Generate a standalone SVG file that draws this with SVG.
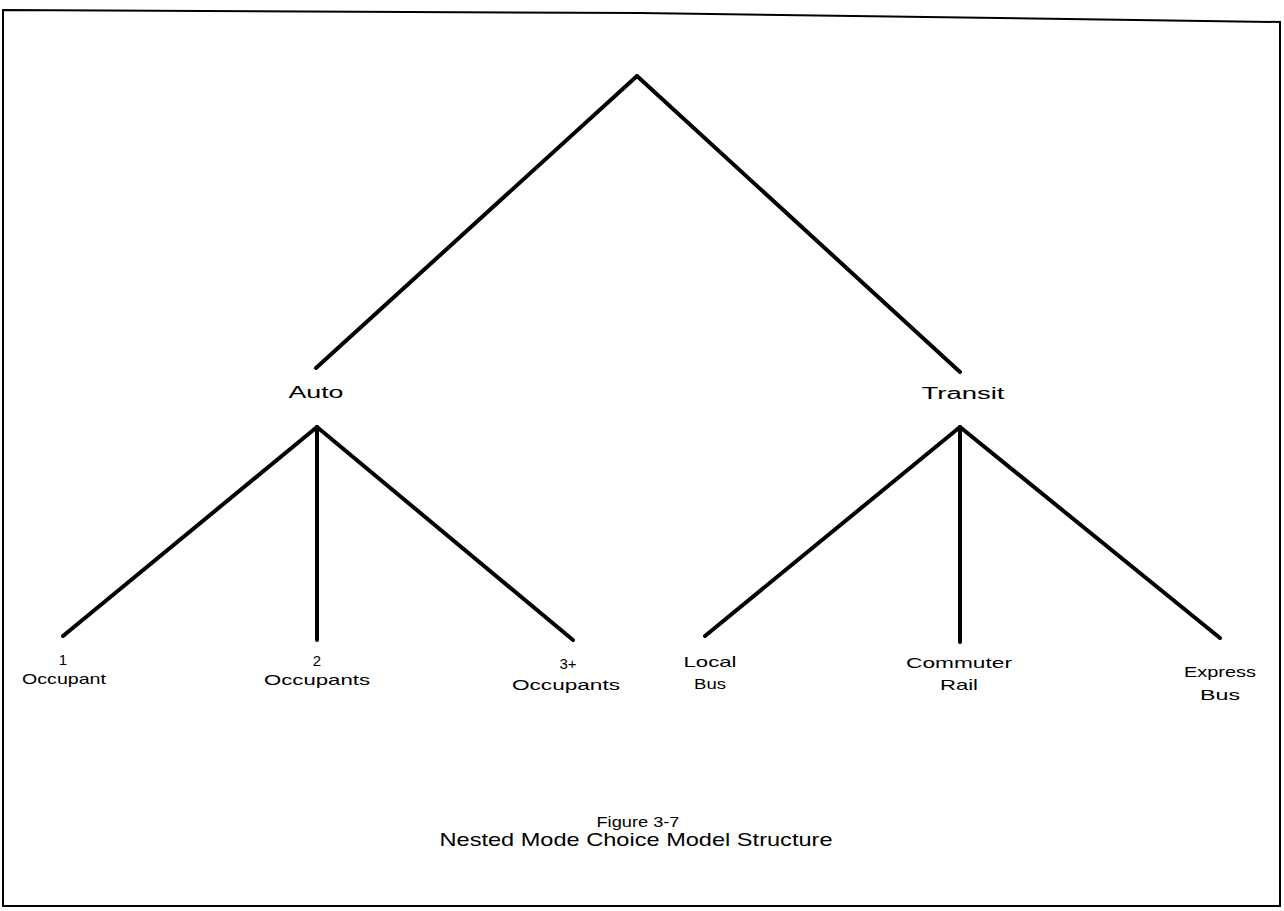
<svg xmlns="http://www.w3.org/2000/svg" width="1284" height="911" viewBox="0 0 1284 911">
<style>
.edge{stroke:#000;stroke-width:4;stroke-linecap:round;fill:none}
.lbl{font-family:"Liberation Sans",Arial,sans-serif;font-size:15px;fill:#000;text-anchor:middle}
.mid{font-family:"Liberation Sans",Arial,sans-serif;font-size:16px;fill:#000;text-anchor:middle}
.cap{font-family:"Liberation Sans",Arial,sans-serif;fill:#000;text-anchor:middle}
</style>
<rect width="1284" height="911" fill="#fff"/>
<path d="M3,10 L640,13 L1280,22 L1280,906 L3,906 Z" fill="none" stroke="#000" stroke-width="2"/>
<g id="connectors">
<line class="edge" x1="637" y1="76" x2="316" y2="368"/>
<line class="edge" x1="637" y1="76" x2="960" y2="372"/>
<line class="edge" x1="317" y1="427" x2="63" y2="636"/>
<line class="edge" x1="317" y1="427" x2="317" y2="640"/>
<line class="edge" x1="317" y1="427" x2="573" y2="640"/>
<line class="edge" x1="960" y1="427" x2="705" y2="636"/>
<line class="edge" x1="960" y1="427" x2="960" y2="642"/>
<line class="edge" x1="960" y1="427" x2="1220" y2="638"/>
</g>
<g id="auto"><text class="mid" x="316" y="398" textLength="55" lengthAdjust="spacingAndGlyphs">Auto</text></g>
<g id="transit"><text class="mid" x="963" y="399" textLength="83" lengthAdjust="spacingAndGlyphs">Transit</text></g>
<g id="occ1"><text class="lbl" x="63" y="665">1</text><text class="lbl" x="64" y="684" textLength="84" lengthAdjust="spacingAndGlyphs">Occupant</text></g>
<g id="occ2"><text class="lbl" x="317" y="666">2</text><text class="lbl" x="317" y="685" textLength="106" lengthAdjust="spacingAndGlyphs">Occupants</text></g>
<g id="occ3"><text class="lbl" x="568" y="669">3+</text><text class="lbl" x="566" y="690" textLength="108" lengthAdjust="spacingAndGlyphs">Occupants</text></g>
<g id="localbus"><text class="lbl" x="710" y="667" textLength="53" lengthAdjust="spacingAndGlyphs">Local</text><text class="lbl" x="710" y="689" textLength="32" lengthAdjust="spacingAndGlyphs">Bus</text></g>
<g id="rail"><text class="lbl" x="959" y="668" textLength="106" lengthAdjust="spacingAndGlyphs">Commuter</text><text class="lbl" x="959" y="690" textLength="38" lengthAdjust="spacingAndGlyphs">Rail</text></g>
<g id="expressbus"><text class="lbl" x="1220" y="677" textLength="72" lengthAdjust="spacingAndGlyphs">Express</text><text class="lbl" x="1220" y="700" textLength="40" lengthAdjust="spacingAndGlyphs">Bus</text></g>
<g id="caption">
<text class="cap" x="638" y="827" font-size="14" textLength="83" lengthAdjust="spacingAndGlyphs">Figure 3-7</text>
<text class="cap" x="636" y="846" font-size="19" textLength="393" lengthAdjust="spacingAndGlyphs">Nested Mode Choice Model Structure</text>
</g>
</svg>
